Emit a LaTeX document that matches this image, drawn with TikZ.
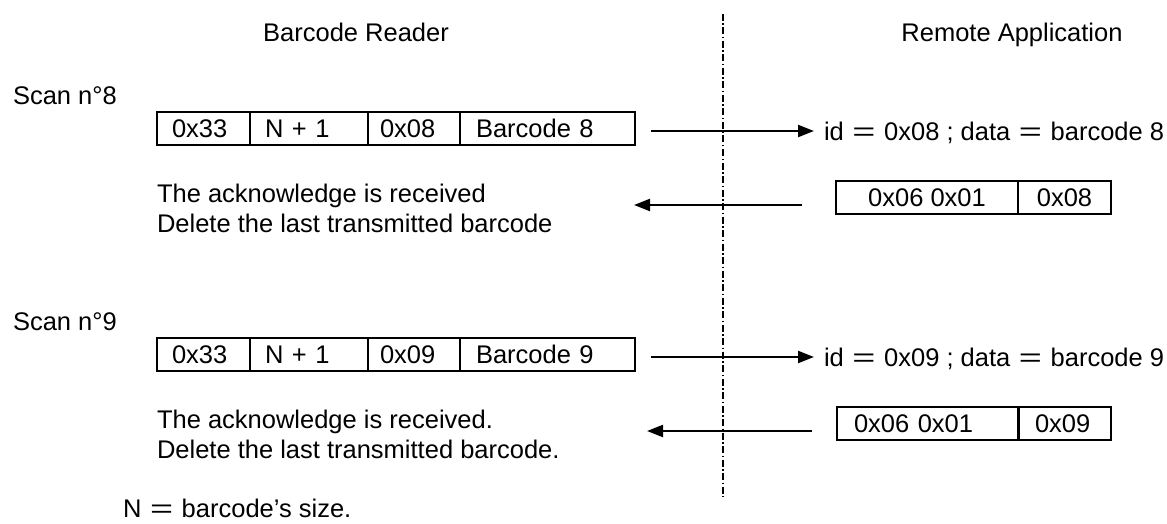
\documentclass[tikz,border=0pt]{standalone}
\usepackage{fontspec}
\setmainfont{Liberation Sans}
\usetikzlibrary{arrows.meta}
\newcommand\eqs{\hspace{0.06em}\scalebox{1.55}[1]{=}\hspace{0.06em}}
\begin{document}
\begin{tikzpicture}[x=1pt,y=-1pt,
  every node/.style={font=\fontsize{25.5}{30}\selectfont, inner sep=0pt, outer sep=0pt},
  txt/.style={anchor=base west},
  cell/.style={draw, line width=1.8pt, minimum height=33pt, anchor=west, align=left},
  msg/.style={line width=2.1pt, -{Triangle[length=16pt,width=12pt]}},
  sep/.style={line width=1.1pt, dash pattern=on 7pt off 2.5pt on 1.5pt off 2.5pt}]
\useasboundingbox[fill=white] (0,0) rectangle (1167,524);

% headers
\node[anchor=base] (br) at (356,42) {Barcode Reader};
\node[anchor=base] (ra) at (1012,42) {Remote Application};
\coordinate (st) at (723,14);
\coordinate (sb) at (723,497);
\draw[sep] (st) -- (sb);

% ---- scan 8
\node[txt] (scan8) at (13,105) {Scan n°8};
\node[cell, text width=63pt, inner xsep=15pt] (c1a) at (157,128.5) {0x33};
\node[cell, text width=88pt, inner xsep=15pt] (c1b) at (250,128.5) {N + 1};
\node[cell, text width=68pt, inner xsep=12pt] (c1c) at (368,128.5) {0x08};
\node[cell, text width=143pt, inner xsep=16pt] (c1d) at (460,128.5) {Barcode 8};
\node[txt] (id8) at (824,140) {id \eqs{} 0x08 ; data \eqs{} barcode 8};
\coordinate (a1s) at (651,131);
\coordinate (a1e) at (814,131);
\draw[msg] (a1s) -- (a1e);

\node[txt] (ack8) at (157,202) {The acknowledge is received};
\node[txt] (del8) at (157,232) {Delete the last transmitted barcode};
\node[cell, minimum width=182pt, align=center] (k1a) at (836,197.5) {0x06 0x01};
\node[cell, minimum width=93pt, align=center] (k1b) at (1018,197.5) {0x08};
\coordinate (b1s) at (802,205);
\coordinate (b1e) at (634,205);
\draw[msg] (b1s) -- (b1e);

% ---- scan 9
\node[txt] (scan9) at (13,330) {Scan n°9};
\node[cell, text width=63pt, inner xsep=15pt] (c2a) at (157,354.5) {0x33};
\node[cell, text width=88pt, inner xsep=15pt] (c2b) at (250,354.5) {N + 1};
\node[cell, text width=68pt, inner xsep=12pt] (c2c) at (368,354.5) {0x09};
\node[cell, text width=143pt, inner xsep=16pt] (c2d) at (460,354.5) {Barcode 9};
\node[txt] (id9) at (824,366) {id \eqs{} 0x09 ; data \eqs{} barcode 9};
\coordinate (a2s) at (651,357);
\coordinate (a2e) at (814,357);
\draw[msg] (a2s) -- (a2e);

\node[txt] (ack9) at (157,428) {The acknowledge is received.};
\node[txt] (del9) at (157,458) {Delete the last transmitted barcode.};
\node[cell, text width=148pt, inner xsep=17pt] (k2a) at (837,423.5) {0x06 0x01};
\node[cell, text width=59pt, inner xsep=17pt] (k2b) at (1018,423.5) {0x09};
\coordinate (b2s) at (812,431);
\coordinate (b2e) at (647,431);
\draw[msg] (b2s) -- (b2e);

\node[txt] (note) at (123,517) {N \eqs{} barcode’s size.};
\end{tikzpicture}
\end{document}
